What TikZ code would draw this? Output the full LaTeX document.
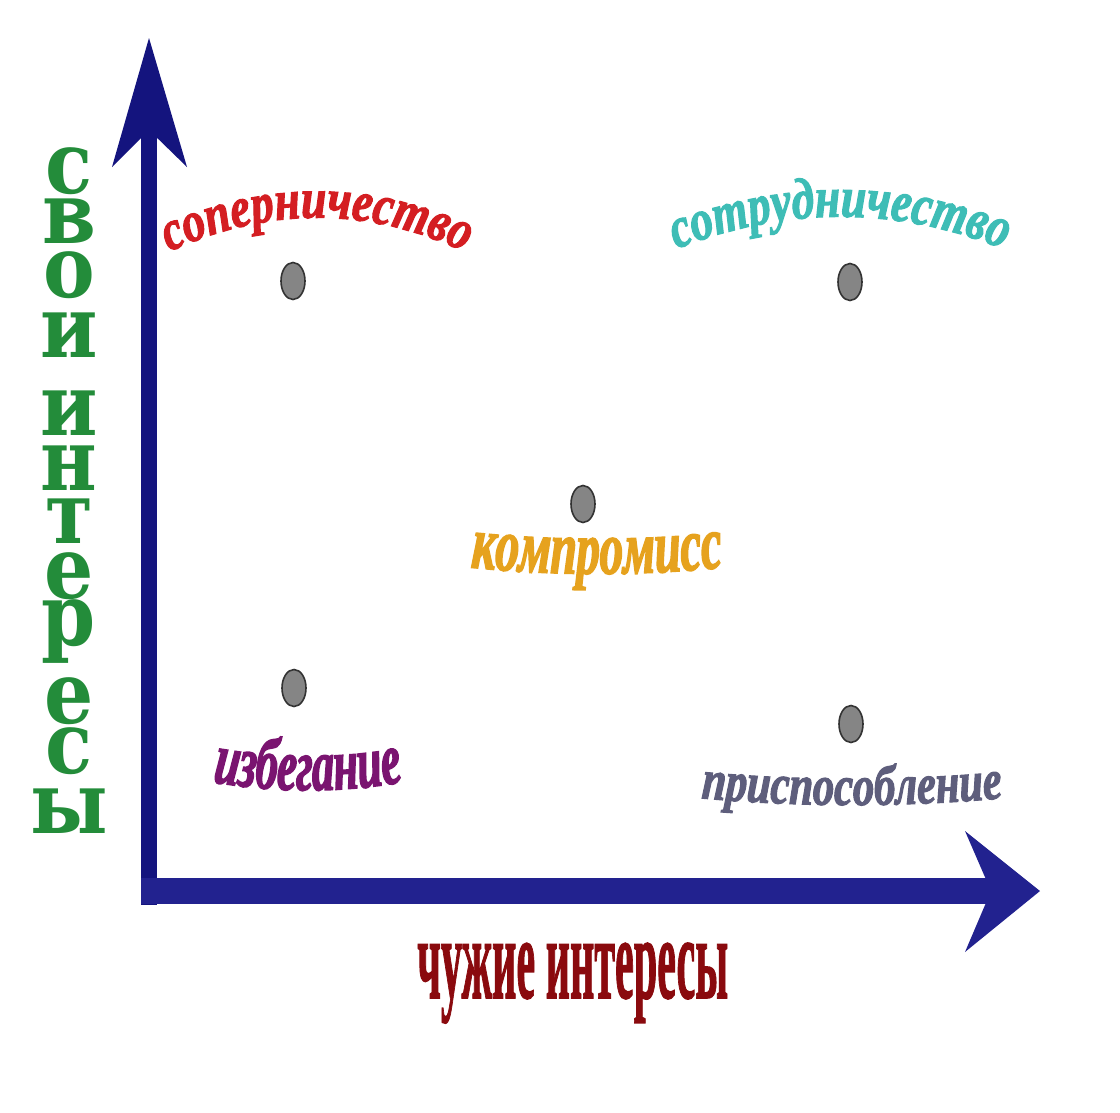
\documentclass[tikz,border=0pt]{standalone}
\usepackage{fontspec}
\usetikzlibrary{decorations.text,shapes.geometric}
\newfontfamily\greenfont{DejaVu Serif}[FakeStretch=0.9]
\newfontfamily\redfont{Liberation Serif}[FakeBold=1.5]
\newfontfamily\ftA{Liberation Serif}[FakeStretch=0.8,FakeBold=1.8]
\newfontfamily\ftB{Liberation Serif}[FakeStretch=0.78,FakeBold=1.8]
\newfontfamily\ftC{Liberation Serif}[FakeStretch=0.62,FakeBold=1.8]
\newfontfamily\ftD{Liberation Serif}[FakeStretch=0.6,FakeBold=1.8]
\newfontfamily\ftE{Liberation Serif}[FakeStretch=0.75,FakeBold=1.8]
\definecolor{navyA}{HTML}{14147E}
\definecolor{navyB}{HTML}{22228F}
\definecolor{cgreen}{HTML}{238C3A}
\definecolor{cdred}{HTML}{8A0A0E}
\definecolor{cred}{HTML}{D41E22}
\definecolor{cteal}{HTML}{3EBDB6}
\definecolor{corange}{HTML}{E6A21E}
\definecolor{cpurple}{HTML}{7A1470}
\definecolor{cslate}{HTML}{5E5E7C}
\definecolor{cdot}{HTML}{858585}
\begin{document}
\begin{tikzpicture}[x=1pt,y=-1pt,
  dot/.style={ellipse, draw=black!80, line width=1.6pt, fill=cdot, minimum width=24pt, minimum height=37pt, inner sep=0pt},
  gletter/.style={anchor=base, text=cgreen, font=\greenfont\bfseries\fontsize{86}{86}\selectfont, inner sep=0pt},
  arclabel/.style={decorate, decoration={text along path, text align=center, text={#1}}}
]
\useasboundingbox[fill=white] (0,0) rectangle (1120,1112);

% axes
\fill[navyA] (141,905) rectangle (157,128);
\fill[navyA] (149,38) -- (187,167) -- (149,130) -- (112,167) -- cycle;
\fill[navyB] (141,878) rectangle (994,904);
\fill[navyB] (1040,891) -- (965,952) -- (991,891) -- (965,831) -- cycle;

% points
\node[dot] (p1) at (293,281) {};
\node[dot] (p2) at (850,282) {};
\node[dot] (p3) at (583,504) {};
\node[dot] (p4) at (294,688) {};
\node[dot] (p5) at (851,724) {};

% curved labels
\path[arclabel={|\ftA\bfseries\itshape\fontsize{57}{60}\selectfont\color{cred}|соперничество}]
  (127,274) .. controls (254,199) and (380,199) .. (507,274);
\path[arclabel={|\ftB\bfseries\itshape\fontsize{58}{60}\selectfont\color{cteal}|сотрудничество}]
  (630,270) .. controls (770,199) and (910,199) .. (1050,270);
\path[arclabel={|\ftC\bfseries\itshape\fontsize{76}{78}\selectfont\color{corange}|компромисс}]
  (417,561) .. controls (537,578) and (657,578) .. (777,561);
\path[arclabel={|\ftD\bfseries\itshape\fontsize{74}{76}\selectfont\color{cpurple}|избегание}]
  (148,767) .. controls (255,798) and (361,798) .. (468,767);
\path[arclabel={|\ftE\bfseries\itshape\fontsize{57}{60}\selectfont\color{cslate}|приспособление}]
  (652,793) .. controls (785,809) and (919,809) .. (1052,793);

% vertical axis label
\foreach \ch/\yy [count=\i] in {с/193, в/243, о/297, и/357, и/435, н/490, т/543, е/598, р/645, е/723, с/773, ы/833}
  \node[gletter] (g\i) at (69,\yy) {\ch};

% horizontal axis label
\node[anchor=base west, inner sep=0pt, text=cdred] (xlab) at (417,998)
  {\resizebox{311pt}{55pt}{\redfont\bfseries чужие интересы}};
\end{tikzpicture}
\end{document}
